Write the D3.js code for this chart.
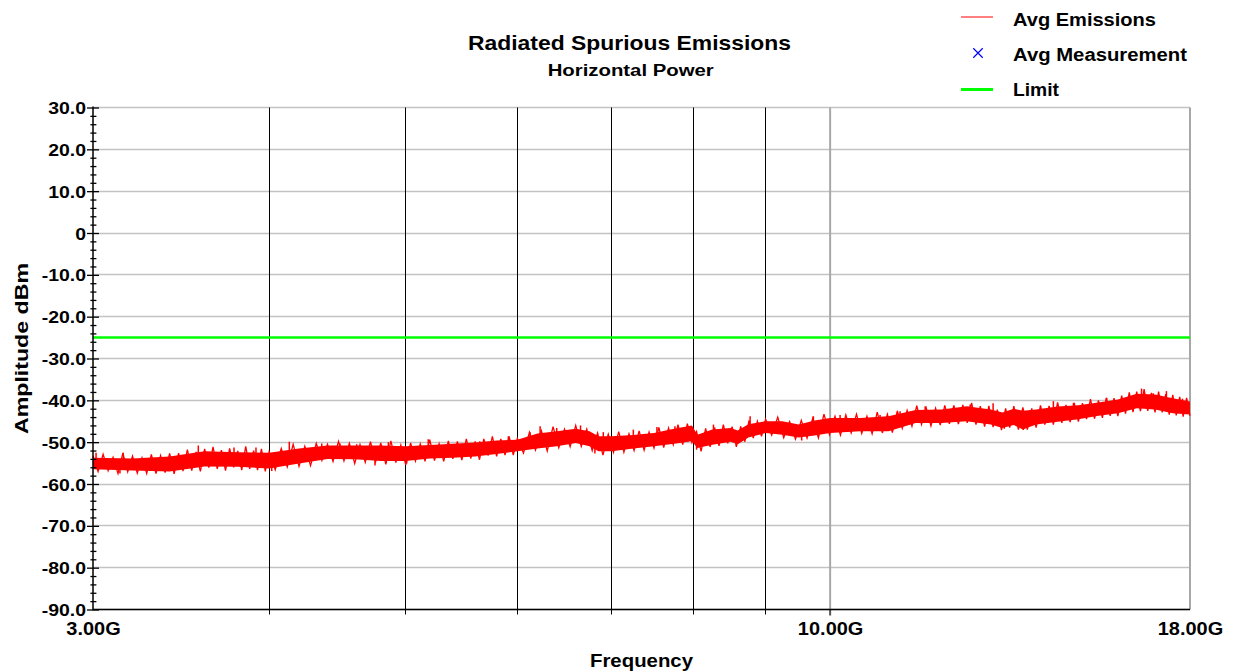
<!DOCTYPE html>
<html><head><meta charset="utf-8">
<script src="https://cdn.jsdelivr.net/npm/d3@7"></script>
<style>
body{margin:0;background:#fff}
text{font-family:"Liberation Sans",Arial,sans-serif;font-weight:bold;fill:#000}
</style>
</head><body>
<svg id="chart" width="1233" height="672"></svg>
<script>
// ---------------- data ----------------
const chartTitle = "Radiated Spurious Emissions";
const chartSubtitle = "Horizontal Power";
const xAxisTitle = "Frequency";
const yAxisTitle = "Amplitude dBm";
const xTickValues = [3, 10, 18];
const xTickLabels = ["3.00G", "10.00G", "18.00G"];
const xMinorGrid = [4, 5, 6, 7, 8, 9];
const yTickValues = [30, 20, 10, 0, -10, -20, -30, -40, -50, -60, -70, -80, -90];
const yTickLabels = ["30.0", "20.0", "10.0", "0", "-10.0", "-20.0", "-30.0", "-40.0", "-50.0", "-60.0", "-70.0", "-80.0", "-90.0"];
const legendLabels = ["Avg Emissions", "Avg Measurement", "Limit"];
const limitValue = -25;

// Avg Emissions trace body: frequency (GHz) with upper / lower edge of the dense trace (dBm)
const emissionFreq  = [3.0, 3.2, 3.4, 3.6, 3.8, 4.0, 4.2, 4.4, 4.6, 4.8, 5.0, 5.2, 5.4, 5.6, 5.8, 6.0, 6.2, 6.4, 6.6, 6.75, 6.85, 7.0, 7.25, 7.5, 7.75, 7.98, 8.05, 8.25, 8.5, 8.6, 8.75, 9.0, 9.25, 9.5, 9.75, 10.0, 10.5, 11.0, 11.5, 12.0, 12.5, 13.0, 13.25, 13.5, 13.7, 14.0, 14.5, 15.0, 15.5, 16.0, 16.5, 17.0, 17.5, 18.0];
const emissionUpper = [-53.7, -53.9, -53.4, -52.2, -52.4, -52.5, -51.5, -50.8, -50.8, -50.8, -51.0, -50.7, -50.4, -50.1, -49.6, -49.4, -47.9, -47.4, -46.8, -47.4, -48.6, -48.6, -48.3, -47.8, -46.8, -46.0, -48.2, -47.0, -46.6, -47.2, -45.7, -45.0, -45.0, -45.8, -44.8, -44.2, -44.2, -43.8, -42.3, -42.2, -41.4, -42.2, -42.9, -42.0, -42.5, -42.2, -41.5, -41.2, -40.5, -39.8, -38.4, -38.6, -39.5, -40.3];
const emissionLower = [-56.5, -56.8, -57.0, -55.8, -55.9, -56.3, -55.1, -54.0, -54.1, -54.5, -54.5, -53.9, -53.7, -53.4, -52.8, -52.2, -51.5, -51.0, -50.2, -51.0, -52.2, -52.2, -51.5, -51.0, -50.4, -49.8, -51.4, -50.6, -49.9, -50.5, -48.9, -47.8, -48.2, -48.9, -48.4, -47.8, -47.4, -47.4, -45.4, -45.4, -45.0, -45.8, -46.6, -45.9, -47.0, -45.8, -45.1, -44.5, -43.7, -43.1, -41.9, -42.2, -43.1, -43.4];

// Avg Emissions sweep samples (noise swinging between the trace edges)
const sweepFreq = [
  3.000, 3.025, 3.050, 3.075, 3.100, 3.125, 3.150, 3.175, 3.200, 3.225, 3.250, 3.275, 3.300, 3.325, 3.350, 3.375, 3.400, 3.425, 3.450, 3.475,
  3.500, 3.525, 3.550, 3.575, 3.600, 3.625, 3.650, 3.675, 3.700, 3.725, 3.750, 3.775, 3.800, 3.825, 3.850, 3.875, 3.900, 3.925, 3.950, 3.975,
  4.00, 4.04, 4.08, 4.12, 4.16, 4.20, 4.24, 4.28, 4.32, 4.36, 4.40, 4.44, 4.48, 4.52, 4.56, 4.60, 4.64, 4.68, 4.72, 4.76,
  4.80, 4.84, 4.88, 4.92, 4.96, 5.00, 5.04, 5.08, 5.12, 5.16, 5.20, 5.24, 5.28, 5.32, 5.36, 5.40, 5.44, 5.48, 5.52, 5.56,
  5.60, 5.64, 5.68, 5.72, 5.76, 5.80, 5.84, 5.88, 5.92, 5.96, 6.00, 6.06, 6.12, 6.18, 6.24, 6.30, 6.36, 6.42, 6.48, 6.54,
  6.60, 6.66, 6.72, 6.78, 6.84, 6.90, 6.96, 7.02, 7.08, 7.14, 7.20, 7.26, 7.32, 7.38, 7.44, 7.50, 7.56, 7.62, 7.68, 7.74,
  7.80, 7.86, 7.92, 7.98, 8.04, 8.10, 8.16, 8.22, 8.28, 8.34, 8.40, 8.46, 8.52, 8.58, 8.64, 8.70, 8.76, 8.82, 8.88, 8.94,
  9.00, 9.09, 9.18, 9.27, 9.36, 9.45, 9.54, 9.63, 9.72, 9.81, 9.90, 9.99, 10.08, 10.17, 10.26, 10.35, 10.44, 10.53, 10.62, 10.71,
  10.80, 10.89, 10.98, 11.07, 11.16, 11.25, 11.34, 11.43, 11.52, 11.61, 11.70, 11.79, 11.88, 11.97, 12.06, 12.15, 12.24, 12.33, 12.42, 12.51,
  12.60, 12.69, 12.78, 12.87, 12.96, 13.05, 13.14, 13.23, 13.32, 13.41, 13.50, 13.6, 13.7, 13.8, 13.9, 14.0, 14.1, 14.2, 14.3, 14.4,
  14.5, 14.6, 14.7, 14.8, 14.9, 15.0, 15.1, 15.2, 15.3, 15.4, 15.5, 15.6, 15.7, 15.8, 15.9, 16.0, 16.1, 16.2, 16.3, 16.4,
  16.5, 16.6, 16.7, 16.8, 16.9, 17.0, 17.1, 17.2, 17.3, 17.4, 17.5, 17.6, 17.7, 17.8, 17.9, 18.0];
const sweepLevel = [
  -53.3, -57.0, -52.9, -56.8, -53.6, -57.5, -52.6, -57.1, -53.3, -57.4, -53.7, -57.5, -52.9, -57.5, -53.2, -57.3, -52.7, -57.6, -52.6, -56.9,
  -51.8, -56.8, -52.3, -57.0, -51.6, -56.1, -51.1, -56.4, -51.9, -56.8, -51.5, -56.0, -52.1, -56.7, -51.0, -56.4, -52.0, -56.7, -51.6, -57.0,
  -52.3, -56.6, -51.5, -55.9, -50.5, -55.8, -51.0, -55.6, -50.3, -54.4, -50.5, -54.6, -49.8, -54.5, -50.3, -55.1, -50.6, -54.8, -49.9, -54.7,
  -50.2, -55.3, -49.7, -54.9, -50.7, -55.4, -50.2, -54.5, -50.4, -54.6, -49.4, -54.4, -50.4, -54.6, -49.7, -54.0, -49.8, -54.3, -49.2, -53.9,
  -49.8, -54.2, -49.2, -53.2, -48.6, -53.4, -49.2, -53.1, -48.6, -53.1, -49.1, -52.6, -47.6, -51.9, -47.3, -52.1, -46.3, -51.3, -46.9, -51.1,
  -46.0, -51.0, -46.9, -52.0, -47.8, -53.1, -48.1, -52.4, -47.5, -52.4, -48.0, -52.0, -47.3, -51.9, -47.6, -51.4, -46.5, -51.3, -46.6, -50.6,
  -45.8, -50.6, -45.6, -50.1, -47.5, -52.2, -46.7, -51.1, -46.5, -50.9, -45.8, -50.3, -46.3, -51.1, -46.2, -49.9, -44.8, -49.0, -45.0, -48.6,
  -44.5, -48.3, -44.0, -48.9, -45.1, -49.3, -44.8, -49.0, -44.3, -49.0, -43.3, -48.2, -43.8, -48.3, -43.5, -47.8, -43.3, -47.9, -43.8, -48.0,
  -42.8, -47.8, -43.3, -47.7, -42.5, -46.7, -42.4, -46.2, -41.3, -45.8, -41.8, -46.1, -41.9, -45.9, -41.2, -45.6, -41.2, -45.7, -41.1, -45.4,
  -40.6, -45.8, -41.4, -46.3, -41.3, -46.4, -42.2, -47.1, -41.9, -46.5, -41.4, -47.0, -41.7, -47.0, -41.9, -46.5, -41.2, -45.8, -41.3, -45.8,
  -40.5, -45.4, -41.1, -45.2, -40.6, -45.1, -40.7, -44.5, -39.7, -44.4, -40.0, -44.2, -39.4, -43.7, -39.5, -43.8, -38.9, -43.2, -38.1, -42.8,
  -37.9, -42.6, -37.3, -42.5, -38.2, -42.9, -37.9, -42.9, -38.5, -43.4, -38.7, -43.6, -39.2, -43.9, -39.4, -43.7];

// isolated noise spikes above the trace
const spikeUpFreq = [3.015, 3.152, 3.563, 3.777, 3.915, 4.134, 4.359, 4.491, 4.615, 4.86, 5.187, 5.643, 5.912, 6.125, 6.227, 6.398, 6.652, 6.904, 7.251, 7.536, 7.761, 8.265, 8.775, 9.73, 10.164, 10.85, 11.21, 11.68, 12.57, 13.05, 14.4, 14.88, 15.71, 16.63, 16.95, 17.32, 17.78];
const spikeUpPeak = [-52.5, -52.5, -50.8, -51.3, -51.3, -49.9, -50.3, -50.3, -50.5, -50.0, -49.3, -49.8, -48.6, -47.6, -46.2, -46.6, -46.0, -47.6, -47.0, -46.4, -46.2, -45.8, -43.8, -43.8, -43.5, -43.5, -42.6, -41.4, -41.0, -40.7, -40.2, -40.6, -39.4, -37.2, -38.3, -37.8, -39.6];
// isolated noise spikes below the trace
const spikeDownFreq = [3.135, 4.017, 4.755, 5.008, 6.81, 8.04, 9.546, 13.29, 13.71];
const spikeDownPeak = [-57.5, -56.9, -55.6, -55.1, -52.7, -51.8, -49.6, -46.8, -47.1];
// Avg Measurement markers (none shown in this plot)
const avgMeasurementFreq = [];
const avgMeasurementValue = [];

// ---------------- drawing ----------------
const svg = d3.select("#chart");
const L = 93, R = 1190, T = 107.5, B = 609.5;
const x = d3.scaleLog().domain([3, 18]).range([L, R]);
const y = d3.scaleLinear().domain([-90, 30]).range([B, T]);
const snap = v => Math.round(v - 0.5) + 0.5;

function stretchedText(g, str, len, size) {
  return g.append("text").text(str).attr("font-size", size)
    .attr("textLength", len).attr("lengthAdjust", "spacingAndGlyphs");
}

// horizontal grid
svg.append("g").selectAll("line").data(yTickValues).join("line")
  .attr("x1", L).attr("x2", R)
  .attr("y1", d => snap(y(d))).attr("y2", d => snap(y(d)))
  .attr("stroke", "#c3c3c3").attr("stroke-width", 1.5);

// vertical minor grid (black)
svg.append("g").selectAll("line").data(xMinorGrid).join("line")
  .attr("x1", d => snap(x(d))).attr("x2", d => snap(x(d)))
  .attr("y1", T).attr("y2", B + 5)
  .attr("stroke", "#000").attr("stroke-width", 1);

// vertical major grid (gray) at 10G and right border at 18G
svg.append("g").selectAll("line").data(xTickValues.slice(1)).join("line")
  .attr("x1", d => x(d)).attr("x2", d => x(d))
  .attr("y1", T).attr("y2", B)
  .attr("stroke", "#a8a8a8").attr("stroke-width", 2);
svg.append("line").attr("x1", x(10)).attr("x2", x(10)).attr("y1", B).attr("y2", B + 6)
  .attr("stroke", "#555").attr("stroke-width", 2);

// emission trace body
const rows = emissionFreq.map((f, i) => ({f, hi: emissionUpper[i], lo: emissionLower[i]}));
svg.append("path").datum(rows)
  .attr("d", d3.area().x(d => x(d.f)).y0(d => y(d.lo)).y1(d => y(d.hi)))
  .attr("fill", "#ff0000");

// emission sweep (noise)
svg.append("path").datum(sweepFreq.map((f, i) => [f, sweepLevel[i]]))
  .attr("d", d3.line().x(d => x(d[0])).y(d => y(d[1])))
  .attr("fill", "none").attr("stroke", "#ff0000").attr("stroke-width", 1.3)
  .attr("stroke-linejoin", "miter");

function bandMid(f) {
  const i = Math.max(1, Math.min(emissionFreq.length - 1, d3.bisectLeft(emissionFreq, f)));
  const a = rows[i - 1], b = rows[i];
  const t = (f - a.f) / (b.f - a.f);
  return ((a.hi + a.lo) / 2) * (1 - t) + ((b.hi + b.lo) / 2) * t;
}
const spikes = spikeUpFreq.map((f, i) => ({f, v: spikeUpPeak[i]}))
  .concat(spikeDownFreq.map((f, i) => ({f, v: spikeDownPeak[i]})));
svg.append("g").selectAll("line").data(spikes).join("line")
  .attr("x1", d => x(d.f)).attr("x2", d => x(d.f))
  .attr("y1", d => y(bandMid(d.f))).attr("y2", d => y(d.v))
  .attr("stroke", "#ff0000").attr("stroke-width", 1.5);

// avg measurement markers
const cross = d3.symbol().type(d3.symbolX).size(40);
svg.append("g").selectAll("path").data(avgMeasurementFreq).join("path")
  .attr("transform", (d, i) => `translate(${x(d)},${y(avgMeasurementValue[i])})`)
  .attr("d", cross).attr("stroke", "#0000ff").attr("fill", "none");

// limit line
svg.append("line").attr("x1", x(3)).attr("x2", x(18))
  .attr("y1", y(limitValue)).attr("y2", y(limitValue))
  .attr("stroke", "#00ff00").attr("stroke-width", 2.5);

// y axis (major + minor ticks crossing the axis line)
const yMajor = svg.append("g").attr("transform", `translate(${L},0)`)
  .call(d3.axisLeft(y).tickValues(yTickValues).tickSize(6).tickFormat(""));
yMajor.select(".domain").remove();
yMajor.selectAll(".tick line").attr("x1", 6).attr("stroke", "#000").attr("stroke-width", 1.3);
const yMinor = svg.append("g").attr("transform", `translate(${L},0)`)
  .call(d3.axisLeft(y).tickValues(d3.range(-88, 30, 2).filter(v => v % 10 !== 0)).tickSize(2.6).tickFormat(""));
yMinor.select(".domain").remove();
yMinor.selectAll(".tick line").attr("x1", 3.4).attr("stroke", "#000").attr("stroke-width", 1.3);

// axis lines
svg.append("line").attr("x1", L).attr("x2", L).attr("y1", T - 1).attr("y2", B + 0.7)
  .attr("stroke", "#000").attr("stroke-width", 1.5);
svg.append("line").attr("x1", L).attr("x2", R).attr("y1", B).attr("y2", B)
  .attr("stroke", "#000").attr("stroke-width", 1.5);

// y tick labels
yTickValues.forEach((v, i) => {
  svg.append("text").text(yTickLabels[i])
    .attr("text-anchor", "end").attr("font-size", 15.8)
    .attr("transform", `translate(86,${y(v) + 6.5}) scale(1.23,1)`);
});

// x tick labels
xTickValues.forEach((v, i) => {
  svg.append("text").text(xTickLabels[i])
    .attr("text-anchor", "middle").attr("font-size", 18.5)
    .attr("transform", `translate(${x(v) + 0.5},634.5) scale(1.08,1)`);
});

// titles
stretchedText(svg, chartTitle, 323, 21).attr("x", 468).attr("y", 50);
stretchedText(svg, chartSubtitle, 166, 17.2).attr("x", 547.7).attr("y", 75.5);
stretchedText(svg, xAxisTitle, 103, 18.5).attr("x", 590).attr("y", 666.5);
stretchedText(svg, yAxisTitle, 171, 18.5)
  .attr("transform", "translate(27.5,434) rotate(-90)");

// legend
const lg = svg.append("g");
lg.append("line").attr("x1", 961).attr("x2", 993).attr("y1", 17).attr("y2", 17)
  .attr("stroke", "#ff0000").attr("stroke-width", 1);
lg.append("path").attr("d", d3.symbol().type(d3.symbolX).size(60))
  .attr("transform", "translate(978,53)").attr("stroke", "#0000ff").attr("stroke-width", 1.2).attr("fill", "none");
lg.append("line").attr("x1", 961).attr("x2", 993).attr("y1", 89.5).attr("y2", 89.5)
  .attr("stroke", "#00ff00").attr("stroke-width", 3);
stretchedText(lg, legendLabels[0], 143, 17.7).attr("x", 1013).attr("y", 25.5);
stretchedText(lg, legendLabels[1], 174, 17.7).attr("x", 1013).attr("y", 61.2);
stretchedText(lg, legendLabels[2], 46, 17.7).attr("x", 1013).attr("y", 96.3);
</script>
</body></html>
